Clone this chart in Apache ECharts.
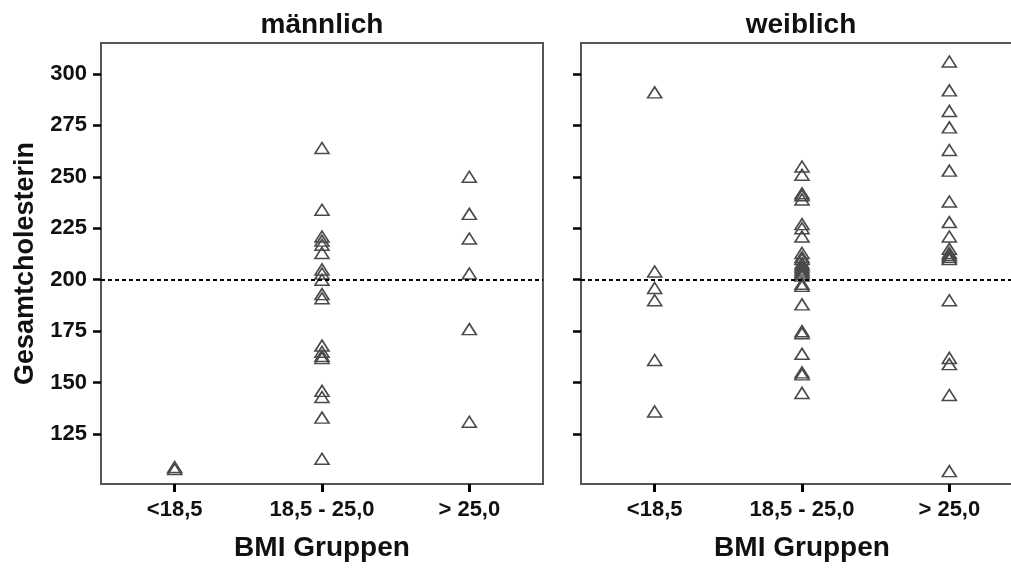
<!DOCTYPE html>
<html>
<head>
<meta charset="utf-8">
<script src="https://cdn.jsdelivr.net/npm/echarts@6/dist/echarts.min.js"></script>
<style>
html,body{margin:0;padding:0;background:#fff;}
#c{width:1011px;height:568px;}
</style>
</head>
<body>
<div id="c"></div>
<script>
// ---- data ----
const categories = ['<18,5', '18,5 - 25,0', '> 25,0'];
const panelTitles = ['männlich', 'weiblich'];
const yTitle = 'Gesamtcholesterin';
const xTitle = 'BMI Gruppen';
const yTicks = [125, 150, 175, 200, 225, 250, 275, 300];
const refLine = 200;

const maleLow = [108, 109];
const maleMid = [264, 234, 221, 219, 217, 213, 205, 203, 200, 193, 191, 168, 165, 163, 162, 146, 143, 133, 113];
const maleHigh = [250, 232, 220, 203, 176, 131];

const femaleLow = [291, 204, 196, 190, 161, 136];
const femaleMid = [255, 251, 242, 241, 239, 227, 225, 221, 213, 211, 210, 208, 207, 206, 205, 204, 203, 202, 198, 197, 188, 175, 174, 164, 155, 154, 145];
const femaleHigh = [306, 292, 282, 274, 263, 253, 238, 228, 221, 215, 213, 212, 211, 210, 190, 162, 159, 144, 107];

// ---- build ----
function pts(groups) {
  const out = [];
  groups.forEach((g, i) => g.forEach(v => out.push([categories[i], v])));
  return out;
}
const maleData = pts([maleLow, maleMid, maleHigh]);
const femaleData = pts([femaleLow, femaleMid, femaleHigh]);

const FONT = '"Liberation Sans", Arial, sans-serif';
const grids = [
  {left: 101, top: 43, width: 442, height: 441},
  {left: 581, top: 43, width: 442, height: 441}
];

function xAxis(i) {
  return {
    type: 'category', gridIndex: i, data: categories, boundaryGap: true,
    name: xTitle, nameLocation: 'middle', nameGap: 50,
    nameTextStyle: {fontFamily: FONT, fontWeight: 'bold', fontSize: 28, color: '#111'},
    axisLine: {show: false},
    axisTick: {show: true, alignWithLabel: true, length: 8, lineStyle: {color: '#000', width: 3}},
    axisLabel: {margin: 15, fontFamily: FONT, fontWeight: 'bold', fontSize: 22, color: '#111'},
    splitLine: {show: false}
  };
}
function yAxis(i) {
  return {
    type: 'value', gridIndex: i, min: 100.75, max: 315,
    name: i === 0 ? yTitle : '', nameLocation: 'middle', nameGap: 62, nameRotate: 90,
    nameTextStyle: {fontFamily: FONT, fontWeight: 'bold', fontSize: 27, color: '#111'},
    axisLine: {show: false},
    axisTick: {show: true, length: 8, customValues: yTicks, lineStyle: {color: '#000', width: 2.5}},
    axisLabel: {show: i === 0, customValues: yTicks, margin: 14, fontFamily: FONT, fontWeight: 'bold', fontSize: 22, color: '#111'},
    splitLine: {show: false}
  };
}
function series(i, data) {
  return {
    type: 'scatter', xAxisIndex: i, yAxisIndex: i, data: data,
    symbol: 'triangle', symbolSize: [14, 11],
    itemStyle: {color: 'rgba(255,255,255,0)', borderColor: '#4a4a4a', borderWidth: 1.6, opacity: 1},
    emphasis: {disabled: true},
    markLine: {
      silent: true, symbol: 'none', label: {show: false},
      lineStyle: {color: '#000', type: [4, 3], width: 2},
      data: [{yAxis: refLine}]
    }
  };
}

const chart = echarts.init(document.getElementById('c'), null, {renderer: 'canvas'});
chart.setOption({
  animation: false,
  backgroundColor: '#fff',
  grid: grids.map(g => Object.assign({show: true, borderColor: '#555', borderWidth: 2, backgroundColor: 'transparent', containLabel: false, outerBoundsMode: 'none'}, g)),
  xAxis: [xAxis(0), xAxis(1)],
  yAxis: [yAxis(0), yAxis(1)],
  series: [series(0, maleData), series(1, femaleData)],
  graphic: panelTitles.map((t, i) => ({
    type: 'text', x: grids[i].left + (i === 0 ? grids[i].width / 2 : 220), y: 25,
    style: {text: t, font: 'bold 28px ' + FONT, fill: '#111', align: 'center', verticalAlign: 'middle', textAlign: 'center', textVerticalAlign: 'middle'}
  }))
});
</script>
</body>
</html>
